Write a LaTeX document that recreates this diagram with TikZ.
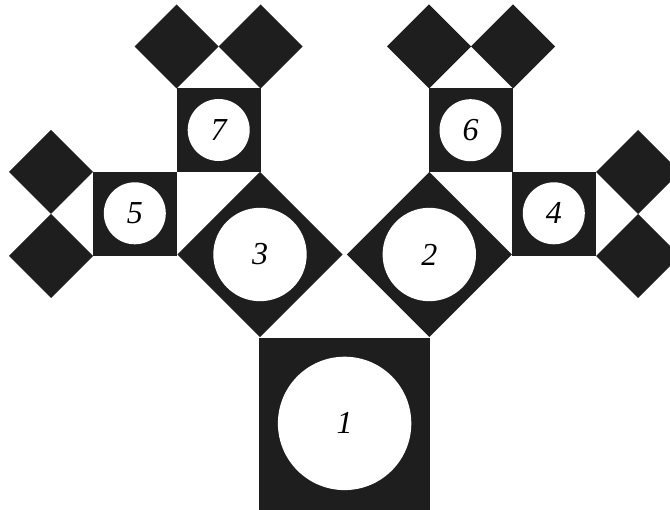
\documentclass[tikz,border=0pt]{standalone}
\usepackage{fontspec}
\setmainfont{Liberation Serif}
\definecolor{ink}{RGB}{30,30,30}
\tikzset{
  sq/.style={rectangle, fill=ink, draw=none, minimum size=#1, inner sep=0pt, outer sep=0pt},
  dia/.style={rectangle, fill=ink, draw=none, minimum size=#1, inner sep=0pt, outer sep=0pt, rotate=45},
  disc/.style={circle, fill=white, draw=none, minimum size=#1, inner sep=0pt, outer sep=0pt,
    font=\fontsize{32}{32}\selectfont\itshape},
}
\begin{document}
\begin{tikzpicture}[x=1pt,y=-1pt]
\useasboundingbox (0,0) rectangle (670,510);
% level 1
\node[sq=171, minimum height=173] (s1) at (344.6,424.4) {};
% level 2
\node[dia=116.7] (s3) at (260,254.5) {};
\node[dia=116.7] (s2) at (429.3,254.5) {};
% level 3
\node[sq=84] (s7) at (218.7,130) {};
\node[sq=84] (s5) at (134.7,214) {};
\node[sq=84] (s6) at (471,130) {};
\node[sq=84] (s4) at (554.2,214) {};
% level 4
\node[dia=59.4] (t1) at (176.7,46.5) {};
\node[dia=59.4] (t2) at (260.7,46.5) {};
\node[dia=59.4] (t3) at (429,46.5) {};
\node[dia=59.4] (t4) at (513,46.5) {};
\node[dia=59.4] (t5) at (51,172) {};
\node[dia=59.4] (t6) at (51,256) {};
\node[dia=59.4] (t7) at (638.2,172) {};
\node[dia=59.4] (t8) at (638.2,256) {};
% discs with numbers
\node[disc=133.4] (c1) at (344.6,423.4) {1};
\node[disc=93.4] (c3) at (260,254.5) {3};
\node[disc=93.4] (c2) at (429.3,254.5) {2};
\node[disc=62] (c7) at (218.7,130) {7};
\node[disc=62] (c5) at (134.8,213.3) {5};
\node[disc=62] (c6) at (470.5,130.2) {6};
\node[disc=62] (c4) at (553.8,213.3) {4};
\end{tikzpicture}
\end{document}
